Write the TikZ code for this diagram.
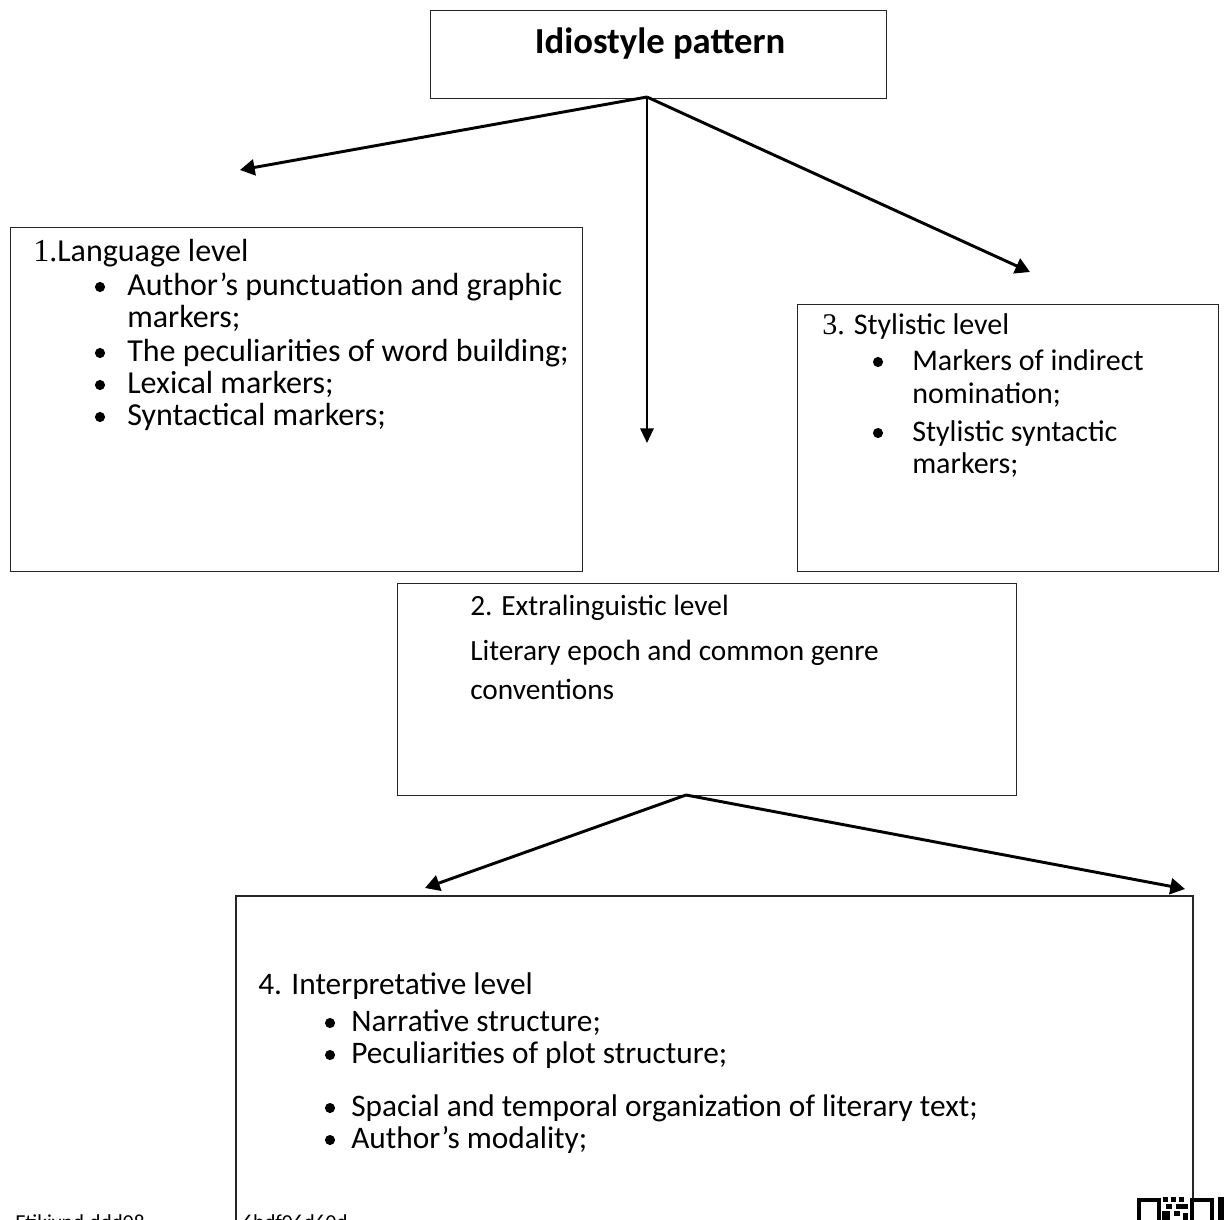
\documentclass[tikz,border=0pt]{standalone}
\usepackage{fontspec}
\setmainfont{Carlito}
\newfontfamily\serifnum{Liberation Serif}
\usetikzlibrary{arrows.meta}
\begin{document}
\begin{tikzpicture}[x=0.75pt,y=-0.75pt,
  box/.style={draw=black!85, line width=1pt, inner sep=0pt},
  txt/.style={anchor=base west, inner sep=0pt},
  ta/.style={txt, font=\fontsize{24}{29}\selectfont},
  tb/.style={txt, font=\fontsize{22}{26}\selectfont},
  tc/.style={txt, font=\fontsize{22.5}{27}\selectfont},
  td/.style={txt, font=\fontsize{23.5}{28}\selectfont},
  bul/.style={circle, fill=black, inner sep=0pt, minimum size=7.6pt},
  conn/.style={line width=2.2pt, -{Triangle[length=11pt,width=12pt]}},
  vconn/.style={line width=1.5pt, -{Triangle[length=11pt,width=10pt]}}]
\useasboundingbox (0,0) rectangle (1228,1220);
\clip (0,0) rectangle (1228,1220);

% boxes
\node[box, anchor=north west, minimum width=342pt, minimum height=66pt] (title) at (430,10) {};
\node[anchor=base, inner sep=0pt, font=\fontsize{27.5}{32}\selectfont\bfseries] (ttext) at (660,54) {Idiostyle pattern};

\node[box, anchor=north west, minimum width=429pt, minimum height=258pt] (box1) at (10,227) {};
\node[box, anchor=north west, minimum width=315.75pt, minimum height=200.25pt] (box3) at (797,304) {};
\node[box, anchor=north west, minimum width=464.25pt, minimum height=159pt] (box2) at (397,583) {};
\coordinate (b4tl) at (236,896);
\coordinate (b4tr) at (1193,896);
\draw[draw=black!85, line width=1pt] (236,1230) -- (b4tl) -- (b4tr) -- (1193,1203);

% box 1 text
\node[ta] (l1) at (33,262) {{\serifnum 1.}Language level};
\node[bul] (l1b1) at (100,287) {};
\node[ta] (l1t1) at (127,295) {Author’s punctuation and graphic};
\node[ta] (l1t1b) at (127,327) {markers;};
\node[bul] (l1b2) at (100,353) {};
\node[ta] (l1t2) at (127,361) {The peculiarities of word building;};
\node[bul] (l1b3) at (100,385) {};
\node[ta] (l1t3) at (127,393) {Lexical markers;};
\node[bul] (l1b4) at (100,417) {};
\node[ta] (l1t4) at (127,425) {Syntactical markers;};

% box 3 text
\node[tc] (l3) at (822,334) {{\serifnum 3.} Stylistic level};
\node[bul] (l3b1) at (878,362) {};
\node[tc] (l3t1) at (912,370) {Markers of indirect};
\node[tc] (l3t1b) at (912,403) {nomination;};
\node[bul] (l3b2) at (878,433) {};
\node[tc] (l3t2) at (912,441) {Stylistic syntactic};
\node[tc] (l3t2b) at (912,473) {markers;};

% box 2 text
\node[tb] (l2) at (470,615) {2. Extralinguistic level};
\node[tb] (l2t1) at (470,660) {Literary epoch and common genre};
\node[tb] (l2t2) at (470,699) {conventions};

% box 4 text
\node[td] (l4) at (258,994) {4. Interpretative level};
\node[bul] (l4b1) at (330,1023) {};
\node[td] (l4t1) at (351,1031) {Narrative structure;};
\node[bul] (l4b2) at (330,1055) {};
\node[td] (l4t2) at (351,1063) {Peculiarities of plot structure;};
\node[bul] (l4b3) at (330,1108) {};
\node[td] (l4t3) at (351,1116) {Spacial and temporal organization of literary text;};
\node[bul] (l4b4) at (330,1140) {};
\node[td] (l4t4) at (351,1148) {Author’s modality;};

% connectors
\coordinate (t0) at (647,97);
\coordinate (e1) at (240,170);
\coordinate (e2) at (647,443);
\coordinate (e3) at (1030,272);
\draw[conn] (t0) -- (e1);
\draw[vconn] (t0) -- (e2);
\draw[conn] (t0) -- (e3);

\coordinate (m0) at (686,795);
\coordinate (e4) at (425,888);
\coordinate (e5) at (1185,889);
\draw[conn] (m0) -- (e4);
\draw[conn] (m0) -- (e5);

% clipped footer text (cut at the lower edge, as in the reference)
\node[txt, font=\fontsize{16}{19}\selectfont] (f1) at (15,1229) {Etikivnd.ddd08};
\node[txt, font=\fontsize{16}{19}\selectfont] (f2) at (242,1229) {6bdf06d60d};

% QR fragment
\draw[line width=3pt] (1139,1200) rectangle (1159,1230);
\draw[line width=3pt] (1192,1200) rectangle (1212,1230);
\fill (1163,1197) rectangle (1168,1202);
\fill (1171,1197) rectangle (1176,1202);
\fill (1179,1197) rectangle (1184,1202);
\fill (1166,1204) rectangle (1172,1209);
\fill (1176,1204) rectangle (1188,1209);
\fill (1162,1211) rectangle (1170,1220);
\fill (1174,1211) rectangle (1180,1216);
\fill (1183,1213) rectangle (1188,1220);
\fill (1218,1197) rectangle (1224,1220);
\end{tikzpicture}
\end{document}
